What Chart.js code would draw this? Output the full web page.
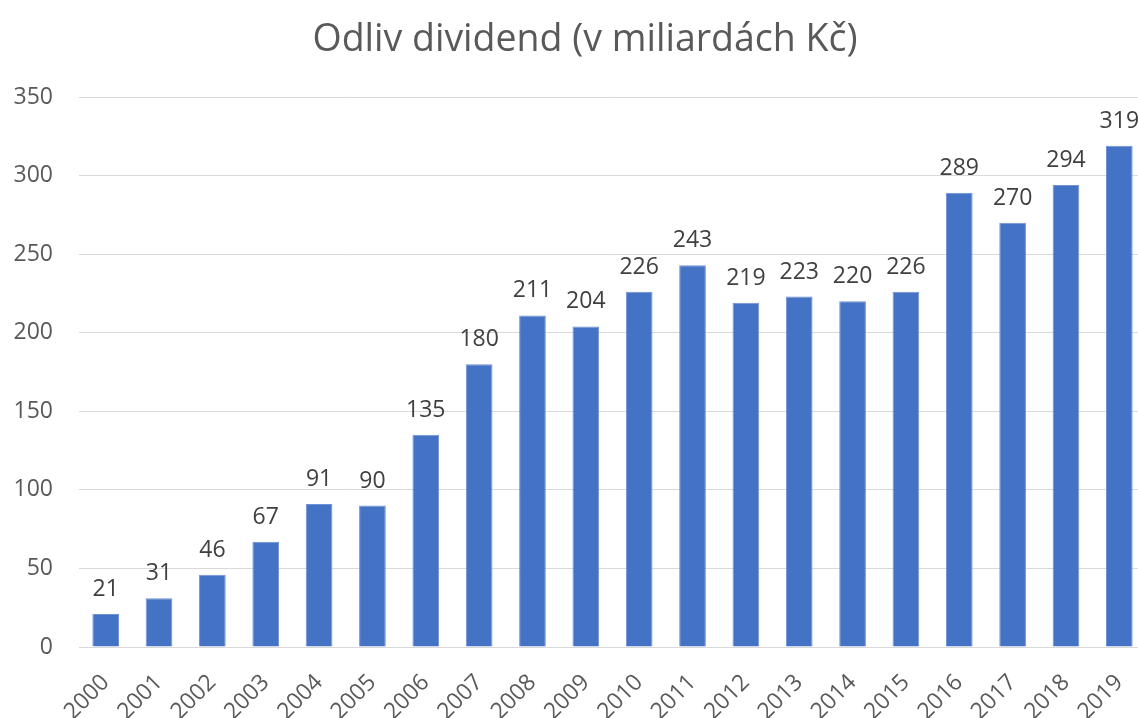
<!DOCTYPE html>
<html>
<head>
<meta charset="utf-8">
<script src="https://cdn.jsdelivr.net/npm/chart.js@4"></script>
<style>
  html, body { margin: 0; padding: 0; overflow: hidden; background: #fff; }
  canvas { display: block; }
</style>
</head>
<body>
<canvas id="chart" width="1170" height="718"></canvas>
<script>
// years on the x axis
const years = ['2000','2001','2002','2003','2004','2005','2006','2007','2008','2009',
               '2010','2011','2012','2013','2014','2015','2016','2017','2018','2019'];
// dividend outflow, bn CZK
const outflow = [21, 31, 46, 67, 91, 90, 135, 180, 211, 204,
                 226, 243, 219, 223, 220, 226, 289, 270, 294, 319];
const chartTitle = 'Odliv dividend (v miliardách Kč)';

const fontFamily = '"Open Sans", "DejaVu Sans", sans-serif';

// draws the value above each bar
const barLabels = {
    id: 'barLabels',
    afterDatasetsDraw(chart) {
        const ctx = chart.ctx;
        const meta = chart.getDatasetMeta(0);
        ctx.save();
        ctx.font = '23px ' + fontFamily;
        ctx.fillStyle = '#404040';
        ctx.textAlign = 'center';
        ctx.textBaseline = 'alphabetic';
        meta.data.forEach((bar, i) => {
            ctx.fillText(String(outflow[i]), bar.x, bar.y - 18);
        });
        ctx.restore();
    }
};

// title centred over the visible picture, not the canvas
const centredTitle = {
    id: 'centredTitle',
    afterDraw(chart) {
        const ctx = chart.ctx;
        ctx.save();
        ctx.font = '37.5px ' + fontFamily;
        ctx.fillStyle = '#595959';
        ctx.textAlign = 'center';
        ctx.textBaseline = 'middle';
        ctx.fillText(chartTitle, 585, 40);
        ctx.restore();
    }
};

new Chart(document.getElementById('chart'), {
    type: 'bar',
    data: {
        labels: years,
        datasets: [{
            data: outflow,
            backgroundColor: '#4472C4',
            borderColor: '#6f92d2',
            borderWidth: 1,
            barPercentage: 0.5,
            categoryPercentage: 1
        }]
    },
    options: {
        responsive: false,
        animation: false,
        layout: { padding: { left: 0, right: 24, top: 97, bottom: 0 } },
        plugins: {
            legend: { display: false },
            tooltip: { enabled: false },
            title: { display: false }
        },
        scales: {
            x: {
                grid: { display: false, drawTicks: false },
                border: { display: true, color: '#d9d9d9', width: 1 },
                ticks: {
                    color: '#595959',
                    font: { family: fontFamily, size: 23 },
                    minRotation: 45,
                    maxRotation: 45,
                    padding: 22
                },
                afterFit(scale) { scale.height = 71; }
            },
            y: {
                min: 0,
                max: 350,
                grid: { color: '#d9d9d9', lineWidth: 1, drawTicks: false },
                border: { display: false },
                ticks: {
                    stepSize: 50,
                    color: '#595959',
                    font: { family: fontFamily, size: 23 },
                    padding: 26
                },
                afterFit(scale) { scale.width = 79; }
            }
        }
    },
    plugins: [barLabels, centredTitle]
});
</script>
</body>
</html>
